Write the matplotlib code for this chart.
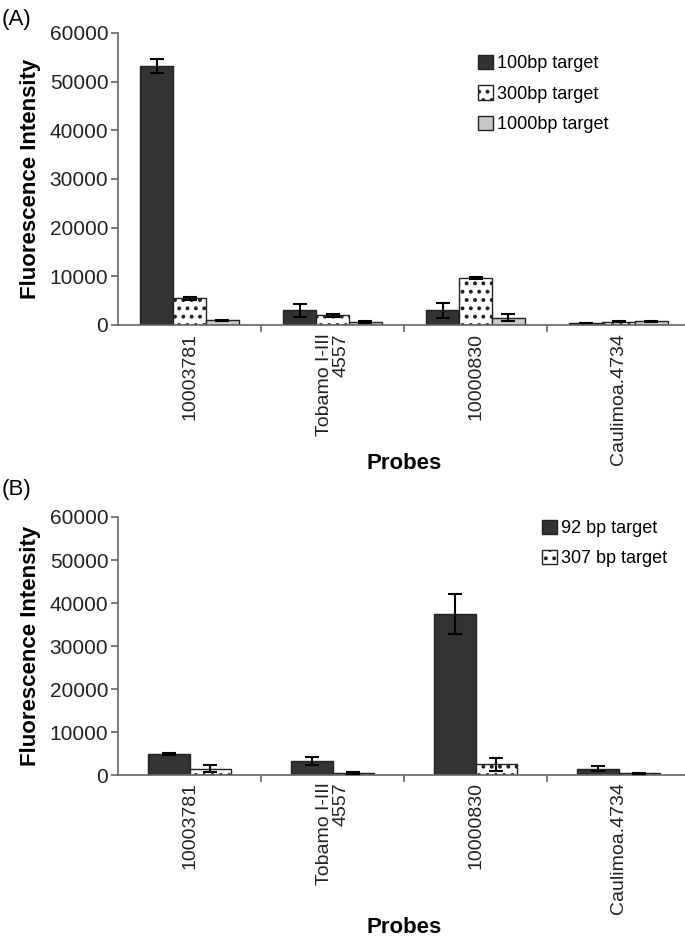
import matplotlib
matplotlib.use("Agg")
import matplotlib.pyplot as plt
import numpy as np

plt.rcParams['font.family'] = ['Liberation Sans', 'DejaVu Sans']
plt.rcParams['hatch.linewidth'] = 1.6

probes = ["10003781", "Tobamo I-III\n4557", "10000830", "Caulimoa.4734"]

# Panel A
a_labels = ["100bp target", "300bp target", "1000bp target"]
a_100 = [53200, 3000, 3000, 400]
a_100_err = [1400, 1300, 1500, 100]
a_300 = [5500, 2000, 9600, 700]
a_300_err = [300, 300, 200, 100]
a_1000 = [1000, 700, 1500, 800]
a_1000_err = [100, 200, 700, 100]

# Panel B
b_labels = ["92 bp target", "307 bp target"]
b_92 = [4900, 3300, 37400, 1500]
b_92_err = [200, 900, 4700, 600]
b_307 = [1500, 400, 2500, 400]
b_307_err = [800, 200, 1500, 100]

yticks = [0, 10000, 20000, 30000, 40000, 50000, 60000]

DARK = "#333333"
LIGHT = "#c8c8c8"
EDGE = "#222222"
AXC = "#666666"

fig = plt.figure(figsize=(6.85, 9.4), dpi=100)

def style_axes(ax):
    ax.set_xlim(0, len(probes))
    ax.set_ylim(0, 60000)
    ax.set_yticks(yticks)
    ax.set_yticklabels([str(v) for v in yticks], fontsize=15, color="#222222")
    for s in ["top", "right"]:
        ax.spines[s].set_visible(False)
    for s in ["left", "bottom"]:
        ax.spines[s].set_color(AXC)
        ax.spines[s].set_linewidth(1.2)
    ax.set_xticks(np.arange(1, len(probes)))
    ax.set_xticklabels([])
    ax.tick_params(axis='x', length=5, color=AXC, width=1.2)
    ax.tick_params(axis='y', length=5, color=AXC, width=1.2, pad=2)
    for i, p in enumerate(probes):
        ax.text(i + 0.5, -0.028, p, transform=ax.get_xaxis_transform(),
                rotation=90, ha='center', va='top', multialignment='right',
                fontsize=14, color="#222222", linespacing=1.0)
    ax.set_ylabel("Fluorescence Intensity", fontsize=16, fontweight='bold',
                  labelpad=6)

def draw_bars(ax, series, errs, styles, width):
    n = len(series)
    x = np.arange(len(probes)) + 0.5
    handles = []
    for k, (vals, err, st) in enumerate(zip(series, errs, styles)):
        off = (k - (n - 1) / 2) * width
        b = ax.bar(x + off, vals, width, color=st['color'], hatch=st.get('hatch'),
                   edgecolor=EDGE, linewidth=1.0, zorder=2)
        ax.errorbar(x + off, vals, yerr=err, fmt='none', ecolor='black',
                    elinewidth=1.5, capsize=5, capthick=1.5, zorder=3)
        handles.append(b)
    return handles

leg_kw = dict(loc='upper left', frameon=False, fontsize=13, handlelength=0.85,
              handleheight=0.85, handletextpad=0.2, labelspacing=0.72,
              borderaxespad=0, borderpad=0)

# Panel A
axA = fig.add_axes([0.1723, 0.6543, 0.835, 0.3106])
style_axes(axA)
hA = draw_bars(axA, [a_100, a_300, a_1000], [a_100_err, a_300_err, a_1000_err],
               [{'color': DARK}, {'color': 'white', 'hatch': '..'}, {'color': LIGHT}],
               0.23)
axA.legend(hA, a_labels, bbox_to_anchor=(0.629, 0.925), **leg_kw)
axA.text(0.5, -0.473, "Probes", transform=axA.transAxes, ha='center', va='center',
         fontsize=16, fontweight='bold')
fig.text(0.003, 0.979, "(A)", fontsize=16, ha='left', va='center')

# Panel B
axB = fig.add_axes([0.1723, 0.1755, 0.835, 0.2745])
style_axes(axB)
hB = draw_bars(axB, [b_92, b_307], [b_92_err, b_307_err],
               [{'color': DARK}, {'color': 'white', 'hatch': '..'}], 0.29)
axB.legend(hB, b_labels, bbox_to_anchor=(0.741, 0.99), **leg_kw)
axB.text(0.5, -0.589, "Probes", transform=axB.transAxes, ha='center', va='center',
         fontsize=16, fontweight='bold')
fig.text(0.003, 0.479, "(B)", fontsize=16, ha='left', va='center')

fig.savefig("out.png", dpi=100)
